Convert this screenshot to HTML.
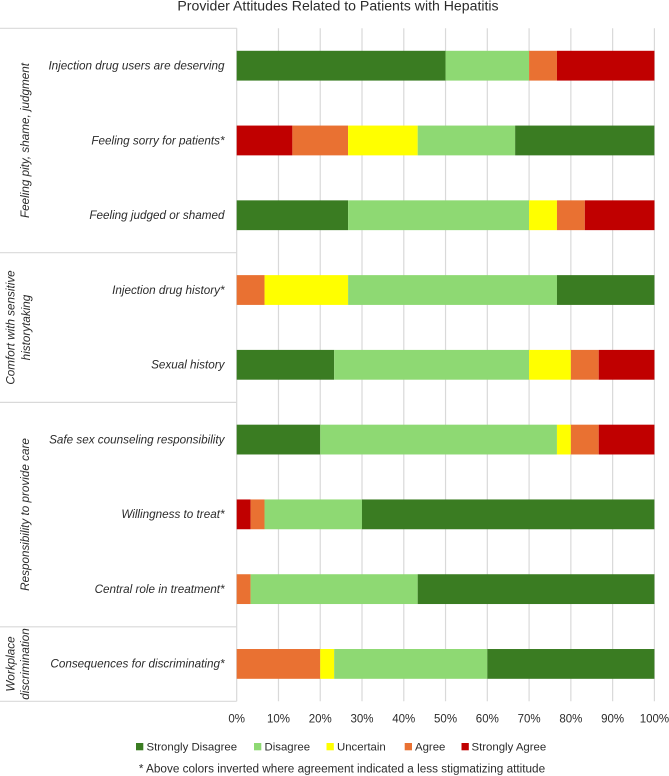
<!DOCTYPE html>
<html>
<head>
<meta charset="utf-8">
<title>Provider Attitudes Related to Patients with Hepatitis</title>
<style>
html,body{margin:0;padding:0;background:#fff;width:669px;height:776px;overflow:hidden}
svg{display:block}
text{font-family:"Liberation Sans",sans-serif;fill:#2b2b2b}
.it{font-style:italic}
</style>
</head>
<body>
<svg id="chart" width="669" height="776" viewBox="0 0 669 776" xmlns="http://www.w3.org/2000/svg">
  <text x="338" y="10.5" text-anchor="middle" font-size="14.1">Provider Attitudes Related to Patients with Hepatitis</text>
  <g id="grid"></g>
  <g id="groups">
    <line x1="0" x2="236.7" y1="28.3" y2="28.3" stroke="#D9D9D9" stroke-width="1.2"/>
    <line x1="0" x2="236.7" y1="252.7" y2="252.7" stroke="#D9D9D9" stroke-width="1.2"/>
    <line x1="0" x2="236.7" y1="402.4" y2="402.4" stroke="#D9D9D9" stroke-width="1.2"/>
    <line x1="0" x2="236.7" y1="626.8" y2="626.8" stroke="#D9D9D9" stroke-width="1.2"/>
    <line x1="0" x2="236.7" y1="701.3" y2="701.3" stroke="#D9D9D9" stroke-width="1.2"/>
  </g>
  <g id="group-labels" class="it" font-size="11.7">
    <text class="it" transform="translate(29,140.5) rotate(-90)" text-anchor="middle">Feeling pity, shame, judgment</text>
    <text class="it" transform="translate(14.5,327.5) rotate(-90)" text-anchor="middle">Comfort with sensitive</text>
    <text class="it" transform="translate(30,327.5) rotate(-90)" text-anchor="middle">historytaking</text>
    <text class="it" transform="translate(29,514.5) rotate(-90)" text-anchor="middle">Responsibility to provide care</text>
    <text class="it" transform="translate(14.5,664) rotate(-90)" text-anchor="middle">Workplace</text>
    <text class="it" transform="translate(29,664) rotate(-90)" text-anchor="middle">discrimination</text>
  </g>
  <g id="bars"></g>
  <g id="cats"></g>
  <g id="ticks"></g>
  <g id="legend" font-size="11.4">
    <rect x="136" y="743" width="7.3" height="7.3" fill="#3A7C22"/>
    <text x="146.5" y="750.3">Strongly Disagree</text>
    <rect x="254" y="743" width="7.3" height="7.3" fill="#8ED973"/>
    <text x="264.5" y="750.3">Disagree</text>
    <rect x="326.5" y="743" width="7.3" height="7.3" fill="#FFFF00"/>
    <text x="337" y="750.3">Uncertain</text>
    <rect x="404.7" y="743" width="7.3" height="7.3" fill="#E97132"/>
    <text x="415" y="750.3">Agree</text>
    <rect x="461.5" y="743" width="7.3" height="7.3" fill="#C00000"/>
    <text x="471.5" y="750.3">Strongly Agree</text>
  </g>
  <text x="342" y="772.5" text-anchor="middle" font-size="11.75">* Above colors inverted where agreement indicated a less stigmatizing attitude</text>
</svg>
<script>
var categories = [
  "Injection drug users are deserving",
  "Feeling sorry for patients*",
  "Feeling judged or shamed",
  "Injection drug history*",
  "Sexual history",
  "Safe sex counseling responsibility",
  "Willingness to treat*",
  "Central role in treatment*",
  "Consequences for discriminating*"
];
var stronglyDisagree = [50, 33.33, 26.67, 23.33, 23.33, 20, 70, 56.67, 40];
var disagree = [20, 23.33, 43.33, 50, 46.67, 56.67, 23.33, 40, 36.67];
var uncertain = [0, 16.67, 6.67, 20, 10, 3.33, 0, 0, 3.33];
var agree = [6.67, 13.33, 6.67, 6.67, 6.67, 6.67, 3.33, 3.33, 20];
var stronglyAgree = [23.33, 13.33, 16.67, 0, 13.33, 13.33, 3.33, 0, 0];
var invertedRows = [false, true, false, true, false, false, true, true, true];
var tickValues = [0, 10, 20, 30, 40, 50, 60, 70, 80, 90, 100];

var NS = 'http://www.w3.org/2000/svg';
var plotLeft = 236.7, plotRight = 654.4, plotTop = 28.3, plotBottom = 701.3;
var seriesList = [
  { key: 'strongly-disagree', values: stronglyDisagree, color: '#3A7C22' },
  { key: 'disagree', values: disagree, color: '#8ED973' },
  { key: 'uncertain', values: uncertain, color: '#FFFF00' },
  { key: 'agree', values: agree, color: '#E97132' },
  { key: 'strongly-agree', values: stronglyAgree, color: '#C00000' }
];
function xScale(v) { return plotLeft + (plotRight - plotLeft) * v / 100; }
function bandHeight() { return (plotBottom - plotTop) / categories.length; }
function bandCenter(i) { return plotTop + bandHeight() * (i + 0.5); }
function make(tag, attrs) {
  var el = document.createElementNS(NS, tag);
  for (var k in attrs) el.setAttribute(k, attrs[k]);
  return el;
}
var gridG = document.getElementById('grid');
var barsG = document.getElementById('bars');
var catsG = document.getElementById('cats');
var ticksG = document.getElementById('ticks');

tickValues.forEach(function (t) {
  var x = xScale(t);
  var line = make('line', { x1: x, x2: x, y1: plotTop, y2: plotBottom, stroke: '#D9D9D9', 'stroke-width': 1.2 });
  
  
  gridG.appendChild(line);
  var label = make('text', { x: x, y: 722.3, 'text-anchor': 'middle', 'font-size': 11.5 });
  label.textContent = t + '%';
  
  
  ticksG.appendChild(label);
});

var barThickness = 29.8;
categories.forEach(function (name, i) {
  var order = invertedRows[i] ? seriesList.slice().reverse() : seriesList;
  var cum = 0;
  order.forEach(function (s) {
    var v = s.values[i];
    if (v > 0) {
      var x0 = xScale(cum), x1 = xScale(cum + v);
      var r = make('rect', { x: x0, y: bandCenter(i) - barThickness / 2, width: x1 - x0, height: barThickness, fill: s.color });
      
      
      barsG.appendChild(r);
    }
    cum += v;
  });
  var t = make('text', { x: 224.5, y: bandCenter(i) + 3.8, 'text-anchor': 'end', 'font-size': 11.7, 'class': 'it' });
  t.textContent = name;
  
  
  catsG.appendChild(t);
});
</script>
</body>
</html>
